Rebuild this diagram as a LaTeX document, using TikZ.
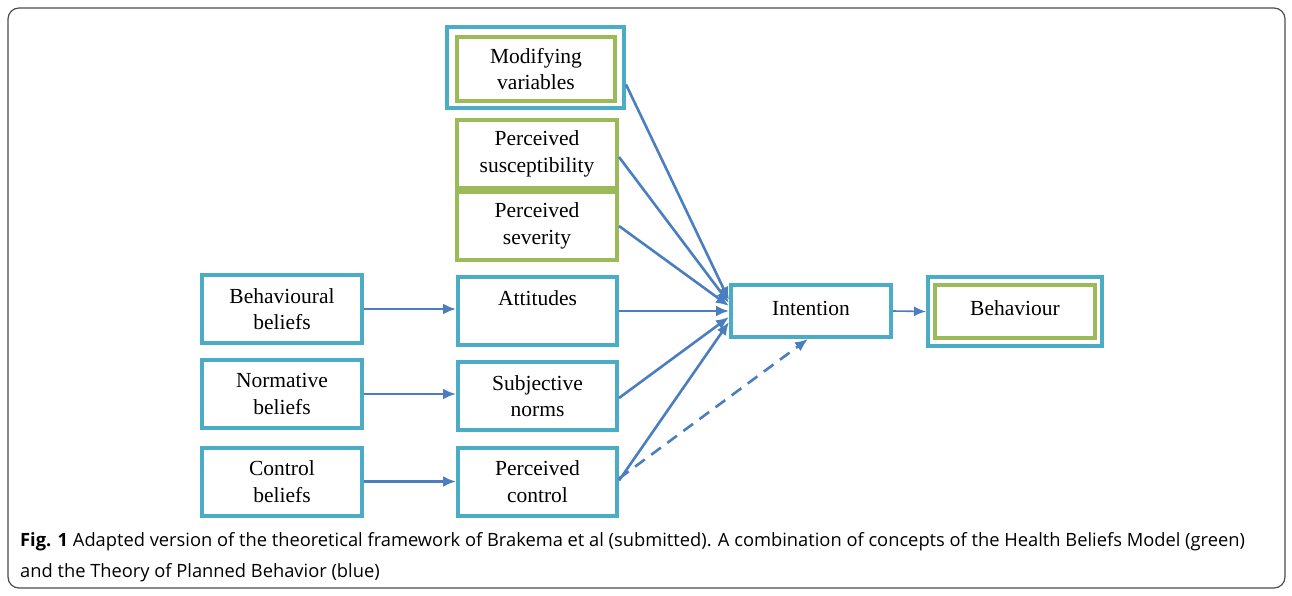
\documentclass[tikz,border=0pt]{standalone}
\usepackage{fontspec}
\setmainfont{Liberation Serif}
\newfontfamily\capfont{Open Sans}
\usetikzlibrary{arrows.meta,calc}
\definecolor{tpb}{HTML}{4BACC6}
\definecolor{hbm}{HTML}{9BBB59}
\definecolor{arr}{HTML}{4A7EC0}
\begin{document}
\begin{tikzpicture}[x=1pt,y=-1pt,
  box/.style={draw=#1,line width=4pt,minimum width=160pt,minimum height=68pt,inner sep=0pt,align=center,font=\fontsize{21.5}{26.5}\selectfont},
  link/.style={draw=arr,line width=2.6pt,-{Latex[length=13pt,width=11pt]}},
  thinlink/.style={draw=arr,line width=1.6pt,-{Latex[length=12pt,width=10pt]}}]
\useasboundingbox (0,0) rectangle (1292,595);
\draw[black!70,line width=1.2pt,rounded corners=11pt] (8,8) rectangle (1285,588);
% modifying variables
\node[box=tpb,minimum width=177pt,minimum height=81pt] (modo) at (535.5,67.5) {};
\node[box=hbm,minimum width=158pt,minimum height=64pt] (mod) at (536,69) {Modifying\\variables};
\node[box=hbm,minimum height=68pt] (sus) at (537,154) {Perceived\\susceptibility};
\node[box=hbm,minimum height=68pt] (sev) at (537,226) {Perceived\\severity};
% left column
\node[box=tpb] (bb) at (282,309) {Behavioural\\beliefs};
\node[box=tpb] (nb) at (282,394) {Normative\\beliefs};
\node[box=tpb] (cb) at (282,481.5) {Control\\beliefs};
% middle column
\node[box=tpb,minimum width=159pt] (att) at (537.5,311) {Attitudes\\\phantom{x}};
\node[box=tpb,minimum width=159pt] (sn) at (537.5,396) {Subjective\\norms};
\node[box=tpb,minimum width=159pt] (pc) at (537.5,481.5) {Perceived\\control};
% intention, behaviour
\node[box=tpb,minimum height=52pt] (int) at (811,311) {\raisebox{6pt}{Intention}};
\node[box=tpb,minimum width=174pt,minimum height=69pt] (behao) at (1015,311.5) {};
\node[box=hbm,minimum height=53pt] (beha) at (1015,311.5) {\raisebox{6pt}{Behaviour}};
% arrows
\draw[link] (bb.east) -- (att.west|-bb.east);
\draw[link] (nb.east) -- (sn.west|-nb.east);
\draw[link] (cb.east) -- (pc.west|-cb.east);
\draw[link] ([yshift=-17pt]modo.east) -- ([yshift=11pt]int.west);
\draw[link] ([yshift=-3pt]sus.east) -- ([yshift=8pt]int.west);
\draw[link] (sev.east) -- ([yshift=5pt]int.west);
\draw[link] (att.east) -- (int.west);
\draw[link] ([yshift=-2pt]sn.east) -- ([yshift=-6pt]int.west);
\draw[link] ([yshift=1pt]pc.east) -- ([yshift=-11pt]int.west);
\draw[link,dashed,dash pattern=on 12pt off 8pt] ([yshift=3pt]pc.east) -- ([xshift=-3pt]int.south);
\draw[thinlink] (int.east) -- (behao.west);
% caption
\node[anchor=base west,inner sep=0pt,font=\capfont\fontsize{18.3}{22}\selectfont] (cap1) at (20,546) {\textbf{Fig. 1} Adapted version of the theoretical framework of Brakema et al (submitted). A combination of concepts of the Health Beliefs Model (green)};
\node[anchor=base west,inner sep=0pt,font=\capfont\fontsize{18.3}{22}\selectfont] (cap2) at (20,577) {and the Theory of Planned Behavior (blue)};
\end{tikzpicture}
\end{document}
